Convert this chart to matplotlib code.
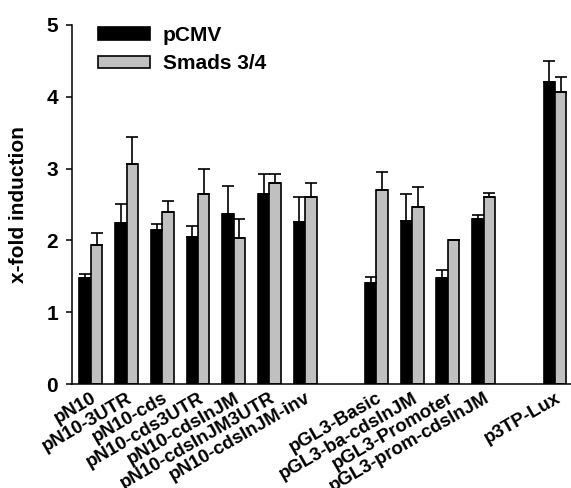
import numpy as np
import matplotlib
matplotlib.use("Agg")
import matplotlib.pyplot as plt

plt.rcParams['font.family'] = ['Liberation Sans', 'DejaVu Sans']
plt.rcParams['font.weight'] = 'bold'

constructs = ["pN10", "pN10-3UTR", "pN10-cds", "pN10-cds3UTR", "pN10-cdsInJM",
              "pN10-cdsInJM3UTR", "pN10-cdsInJM-inv",
              "pGL3-Basic", "pGL3-ba-cdsInJM", "pGL3-Promoter", "pGL3-prom-cdsInJM",
              "p3TP-Lux"]
slots = [0, 1, 2, 3, 4, 5, 6, 8, 9, 10, 11, 13]

pcmv = [1.47, 2.24, 2.14, 2.05, 2.37, 2.64, 2.25, 1.40, 2.27, 1.47, 2.30, 4.21]
pcmv_err = [0.06, 0.27, 0.09, 0.15, 0.39, 0.28, 0.35, 0.09, 0.38, 0.12, 0.06, 0.29]
smads = [1.94, 3.07, 2.40, 2.65, 2.03, 2.80, 2.60, 2.70, 2.47, 2.00, 2.60, 4.07]
smads_err = [0.17, 0.37, 0.15, 0.35, 0.27, 0.12, 0.20, 0.25, 0.27, 0.0, 0.06, 0.21]

fig = plt.figure(figsize=(5.71, 4.88), dpi=100)
ax = fig.add_axes([72/571, 1 - 384/488, 1 - 72/571, (384 - 25)/488])

x = np.array(slots, dtype=float)
w = 0.32
zeros = np.zeros(len(x))
ax.bar(x - w/2, pcmv, w, color='black', edgecolor='black', linewidth=1.2,
       label='pCMV', zorder=2)
ax.errorbar(x - w/2, pcmv, yerr=[zeros, pcmv_err], fmt='none', ecolor='black',
            elinewidth=1.2, capsize=4, capthick=1.2, zorder=3)
ax.bar(x + w/2, smads, w, color='#c0c0c0', edgecolor='black', linewidth=1.2,
       label='Smads 3/4', zorder=2)
ax.errorbar(x + w/2, smads, yerr=[zeros, smads_err], fmt='none', ecolor='black',
            elinewidth=1.2, capsize=4, capthick=1.2, zorder=3)

ax.set_xlim(-0.53, 13.45)
ax.set_ylim(0, 5)
ax.set_yticks([0, 1, 2, 3, 4, 5])
ax.tick_params(axis='y', direction='out', length=4, width=1.1, labelsize=15, pad=6)
ax.set_xticks(x)
ax.set_xticklabels(constructs, rotation=30, ha='right', rotation_mode='anchor',
                   fontsize=13.5, fontweight='bold')
ax.tick_params(axis='x', length=0, pad=4)
for lab in ax.get_yticklabels():
    lab.set_fontweight('bold')
ax.set_ylabel('x-fold induction', fontsize=15, fontweight='bold', labelpad=13)

for s in ['top', 'right']:
    ax.spines[s].set_visible(False)
ax.spines['left'].set_linewidth(1.1)
ax.spines['bottom'].set_linewidth(1.1)

ax.legend(loc='upper left', bbox_to_anchor=(0.015, 1.05), frameon=False,
          prop={'size': 15, 'weight': 'bold'}, handlelength=2.5, handleheight=0.55,
          handletextpad=0.6, labelspacing=0.45)

fig.savefig('out.png', dpi=100)
